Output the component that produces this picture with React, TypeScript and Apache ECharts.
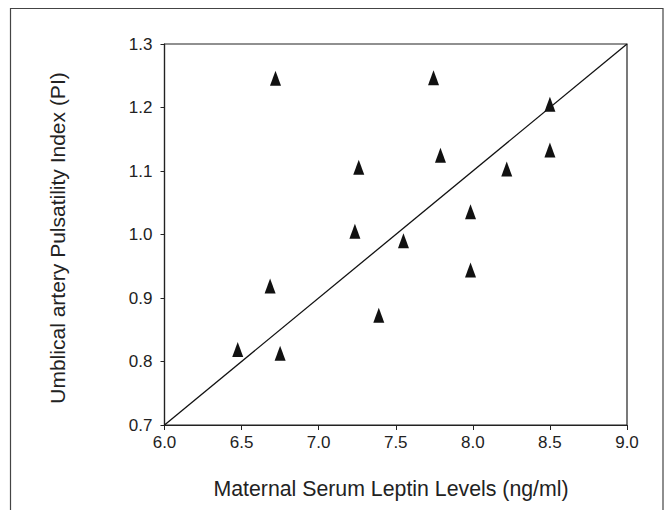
import React, { useEffect, useRef } from "react";
import * as echarts from "echarts";

const leptin = [6.72, 7.745, 8.5, 7.26, 7.79, 8.22, 8.5, 7.985, 7.235, 7.55, 7.985, 6.685, 7.39, 6.475, 6.75];
const pulsatility = [1.246, 1.247, 1.205, 1.106, 1.125, 1.103, 1.133, 1.036, 1.005, 0.99, 0.944, 0.919, 0.873, 0.819, 0.813];
const refLineX = [6.0, 9.0];
const refLineY = [0.7, 1.3];
const xTitle = "Maternal Serum Leptin Levels (ng/ml)";
const yTitle = "Umblical artery Pulsatility Index (PI)";

export default function App() {
  const ref = useRef<HTMLDivElement>(null);
  useEffect(() => {
    if (!ref.current) return;
    const chart = echarts.init(ref.current, null, { renderer: "svg" });
    const font = "Liberation Sans, Arial, Helvetica, sans-serif";
    const ink = "#222";
    chart.setOption({
      animation: false,
      backgroundColor: "#fff",
      grid: {
        left: 164.5,
        right: 41,
        top: 44,
        bottom: 85,
        show: true,
        borderColor: ink,
        borderWidth: 1.2,
      },
      xAxis: {
        type: "value",
        min: 6,
        max: 9,
        interval: 0.5,
        axisLine: { show: true, onZero: false, lineStyle: { color: ink, width: 1.2 } },
        axisTick: { show: true, inside: false, length: 5, lineStyle: { color: ink } },
        splitLine: { show: false },
        axisLabel: {
          color: ink,
          fontFamily: font,
          fontSize: 17,
          margin: 9,
          formatter: (v: number) => v.toFixed(1),
        },
      },
      yAxis: {
        type: "value",
        min: 0.7,
        max: 1.3,
        interval: 0.1,
        axisLine: { show: true, onZero: false, lineStyle: { color: ink, width: 1.2 } },
        axisTick: { show: true, inside: false, length: 4, lineStyle: { color: ink } },
        splitLine: { show: false },
        axisLabel: {
          color: ink,
          fontFamily: font,
          fontSize: 17,
          margin: 12,
          formatter: (v: number) => v.toFixed(1),
        },
      },
      graphic: [
        {
          type: "rect",
          shape: { x: 10.5, y: 8.5, width: 652.5, height: 530 },
          style: { fill: "none", stroke: "#444", lineWidth: 1.2 },
          silent: true,
        },
        {
          type: "text",
          x: 391,
          y: 489,
          style: {
            text: xTitle,
            fill: ink,
            font: `21.3px ${font}`,
            textAlign: "center",
            textVerticalAlign: "middle",
          },
        },
        {
          type: "text",
          x: 57,
          y: 238,
          rotation: Math.PI / 2,
          style: {
            text: yTitle,
            fill: ink,
            font: `21px ${font}`,
            textAlign: "center",
            textVerticalAlign: "middle",
          },
        },
      ],
      series: [
        {
          type: "line",
          data: refLineX.map((x, i) => [x, refLineY[i]]),
          showSymbol: false,
          symbol: "none",
          lineStyle: { color: "#111", width: 1.3 },
          silent: true,
          z: 2,
        },
        {
          type: "scatter",
          data: leptin.map((x, i) => [x, pulsatility[i]]),
          symbol: "triangle",
          symbolSize: [11, 15],
          itemStyle: { color: "#111", opacity: 1 },
          z: 3,
        },
      ],
    });
    return () => chart.dispose();
  }, []);
  return (
    <div
      ref={ref}
      style={{ position: "fixed", left: 0, top: 0, width: 668, height: 510 }}
    />
  );
}
